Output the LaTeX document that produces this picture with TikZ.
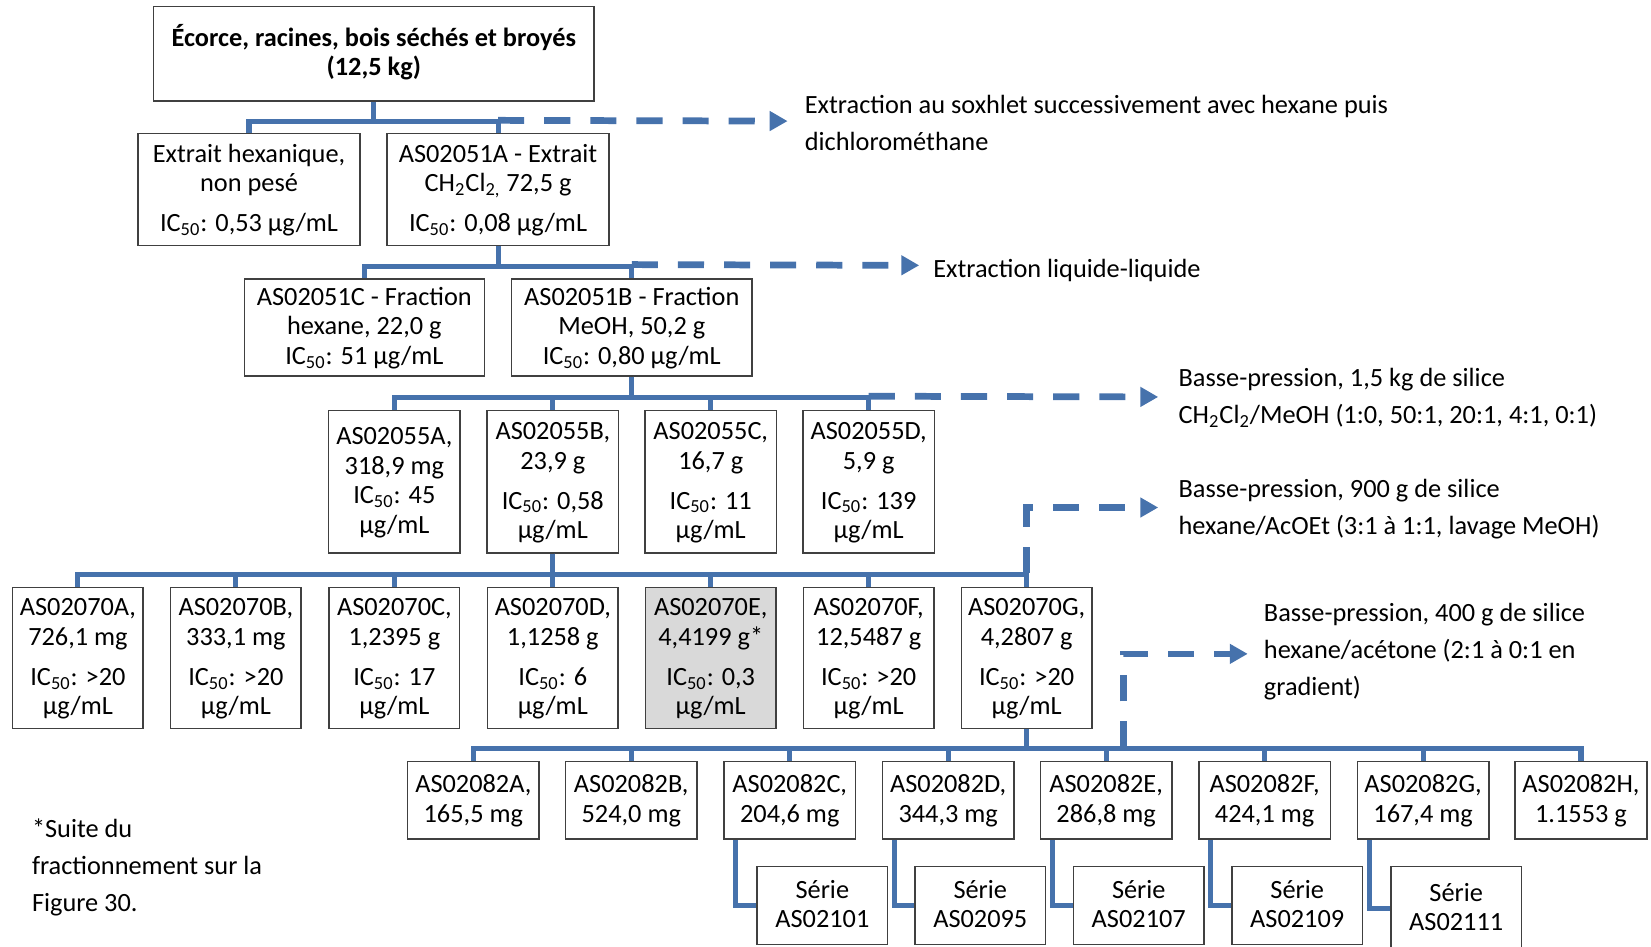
\documentclass[tikz,border=0pt]{standalone}
\usepackage{fontspec}
\setmainfont{Carlito}
\usetikzlibrary{arrows.meta,calc}
\definecolor{connblue}{RGB}{70,114,172}
\definecolor{boxline}{RGB}{64,64,64}
\definecolor{hlgray}{RGB}{217,217,217}
\newcommand\boxtop{\rule{0pt}{11pt}}
\newcommand\boxbot{\rule[-4pt]{0pt}{4pt}}
\tikzset{
  box/.style={draw=boxline, line width=0.7pt, fill=white, align=center, inner sep=0pt,
    font=\fontsize{12.5}{14}\selectfont},
  topbox/.style={box, minimum width=209pt, minimum height=45pt, font=\fontsize{12.5}{14}\selectfont\bfseries},
  rowtwo/.style={box, minimum width=105.5pt, minimum height=53pt},
  rowthree/.style={box, minimum width=114pt, minimum height=46pt},
  rowfour/.style={box, minimum width=62.5pt, minimum height=67.5pt},
  rowfive/.style={box, minimum width=62pt, minimum height=67pt},
  rowsix/.style={box, minimum width=62.5pt, minimum height=37pt},
  serie/.style={box, minimum width=62pt, minimum height=37pt},
  link/.style={draw=connblue, line width=2.4pt},
  dlink/.style={draw=connblue, line width=3.2pt, dash pattern=on 12.4pt off 9.5pt,
    -{Triangle[length=8.5pt,width=9pt]}},
  note/.style={anchor=north west, inner sep=0pt, align=left,
    font=\fontsize{12.5}{17.5}\selectfont, execute at begin node=\strut}
}
\begin{document}
\begin{tikzpicture}[x=0.5pt,y=-0.5pt]
\useasboundingbox (0,0) rectangle (1568,899);
\clip (0,0) rectangle (1568,899);

% ---------- boxes ----------
\node[topbox] (top) at (355,51) {\boxtop Écorce, racines, bois séchés et broyés\\(12,5 kg)\boxbot};

\node[rowtwo] (hex) at (236.5,180) {\boxtop Extrait hexanique,\\non pesé\\[5pt]IC\textsubscript{50}: 0,53 µg/mL\boxbot};
\node[rowtwo] (a51A) at (473,180) {\boxtop AS02051A - Extrait\\CH\textsubscript{2}Cl\textsubscript{2,} 72,5 g\\[5pt]IC\textsubscript{50}: 0,08 µg/mL\boxbot};

\node[rowthree] (c51C) at (346,311) {\boxtop AS02051C - Fraction\\hexane, 22,0 g\\IC\textsubscript{50}: 51 µg/mL\boxbot};
\node[rowthree] (b51B) at (600,311) {\boxtop AS02051B - Fraction\\MeOH, 50,2 g\\IC\textsubscript{50}: 0,80 µg/mL\boxbot};

\node[rowfour] (p55A) at (374.5,457.5) {\boxtop AS02055A,\\318,9 mg\\IC\textsubscript{50}: 45\\µg/mL\boxbot};
\node[rowfour] (p55B) at (525,457.5) {\boxtop AS02055B,\\23,9 g\\[5pt]IC\textsubscript{50}: 0,58\\µg/mL\boxbot};
\node[rowfour] (p55C) at (675,457.5) {\boxtop AS02055C,\\16,7 g\\[5pt]IC\textsubscript{50}: 11\\µg/mL\boxbot};
\node[rowfour] (p55D) at (825,457.5) {\boxtop AS02055D,\\5,9 g\\[5pt]IC\textsubscript{50}: 139\\µg/mL\boxbot};

\node[rowfive] (p70A) at (74,625) {\boxtop AS02070A,\\726,1 mg\\[5pt]IC\textsubscript{50}: >20\\µg/mL\boxbot};
\node[rowfive] (p70B) at (224,625) {\boxtop AS02070B,\\333,1 mg\\[5pt]IC\textsubscript{50}: >20\\µg/mL\boxbot};
\node[rowfive] (p70C) at (374.5,625) {\boxtop AS02070C,\\1,2395 g\\[5pt]IC\textsubscript{50}: 17\\µg/mL\boxbot};
\node[rowfive] (p70D) at (525,625) {\boxtop AS02070D,\\1,1258 g\\[5pt]IC\textsubscript{50}: 6\\µg/mL\boxbot};
\node[rowfive, fill=hlgray] (p70E) at (675,625) {\boxtop AS02070E,\\4,4199 g*\\[5pt]IC\textsubscript{50}: 0,3\\µg/mL\boxbot};
\node[rowfive] (p70F) at (825,625) {\boxtop AS02070F,\\12,5487 g\\[5pt]IC\textsubscript{50}: >20\\µg/mL\boxbot};
\node[rowfive] (p70G) at (975,625) {\boxtop AS02070G,\\4,2807 g\\[5pt]IC\textsubscript{50}: >20\\µg/mL\boxbot};

\node[rowsix] (p82A) at (449.5,760) {\boxtop AS02082A,\\165,5 mg\boxbot};
\node[rowsix] (p82B) at (599.5,760) {\boxtop AS02082B,\\524,0 mg\boxbot};
\node[rowsix] (p82C) at (750,760) {\boxtop AS02082C,\\204,6 mg\boxbot};
\node[rowsix] (p82D) at (900.5,760) {\boxtop AS02082D,\\344,3 mg\boxbot};
\node[rowsix] (p82E) at (1050.5,760) {\boxtop AS02082E,\\286,8 mg\boxbot};
\node[rowsix] (p82F) at (1201,760) {\boxtop AS02082F,\\424,1 mg\boxbot};
\node[rowsix] (p82G) at (1351.5,760) {\boxtop AS02082G,\\167,4 mg\boxbot};
\node[rowsix] (p82H) at (1501.5,760) {\boxtop AS02082H,\\1.1553 g\boxbot};

\node[serie] (s1) at (781,860) {\boxtop Série\\AS02101\boxbot};
\node[serie] (s2) at (931,860) {\boxtop Série\\AS02095\boxbot};
\node[serie] (s3) at (1081.5,860) {\boxtop Série\\AS02107\boxbot};
\node[serie] (s4) at (1232,860) {\boxtop Série\\AS02109\boxbot};
\node[serie, minimum height=40pt] (s5) at (1383,863) {\boxtop Série\\AS02111\boxbot};

% ---------- notes ----------
\node[note] (t1) at (764,90.5) {Extraction au soxhlet successivement avec hexane puis\\dichlorométhane};
\node[note] (t2) at (886,238.5) {Extraction liquide-liquide};
\node[note] (t3) at (1119,349.5) {Basse-pression, 1,5 kg de silice\\CH\textsubscript{2}Cl\textsubscript{2}/MeOH (1:0, 50:1, 20:1, 4:1, 0:1)};
\node[note] (t4) at (1119,454.5) {Basse-pression, 900 g de silice\\hexane/AcOEt (3:1 à 1:1, lavage MeOH)};
\node[note] (t5) at (1200,572.5) {Basse-pression, 400 g de silice\\hexane/acétone (2:1 à 0:1 en\\gradient)};
\node[note] (foot) at (30,777.5) {*Suite du\\fractionnement sur la\\Figure 30.};

% ---------- arrow ends ----------
\coordinate (e1) at (748,115);
\coordinate (e2) at (873,252);
\coordinate (e3) at (1100,377);
\coordinate (e4) at (1100,482);
\coordinate (e5) at (1185,621);
\coordinate (b5) at (1067,710);

% ---------- solid connectors ----------
\foreach \c in {hex,a51A} \draw[link] (top.south) -- ++(0,19) -| (\c.north);
\foreach \c in {c51C,b51B} \draw[link] (a51A.south) -- ++(0,19) -| (\c.north);
\foreach \c in {p55A,p55B,p55C,p55D} \draw[link] (b51B.south) -- ++(0,20) -| (\c.north);
\foreach \c in {p70A,p70B,p70C,p70D,p70E,p70F,p70G} \draw[link] (p55B.south) -- ++(0,20) -| (\c.north);
\foreach \c in {p82A,p82B,p82C,p82D,p82E,p82F,p82G,p82H} \draw[link] (p70G.south) -- ++(0,18) -| (\c.north);
\draw[link] ([xshift=6pt]p82C.south west) |- (s1.west);
\draw[link] ([xshift=6pt]p82D.south west) |- (s2.west);
\draw[link] ([xshift=6pt]p82E.south west) |- (s3.west);
\draw[link] ([xshift=6pt]p82F.south west) |- (s4.west);
\draw[link] ([xshift=6pt]p82G.south west) |- (s5.west);

% ---------- dashed arrows ----------
\draw[dlink] ([yshift=6pt]a51A.north) -- (e1);
\draw[dlink] ([yshift=6.5pt]b51B.north) -- (e2);
\draw[dlink] ([yshift=6.5pt]p55D.north) -- (e3);
\draw[dlink] ([yshift=6.5pt]p70G.north) |- (e4);
\draw[dlink] (b5) |- (e5);
\end{tikzpicture}
\end{document}
